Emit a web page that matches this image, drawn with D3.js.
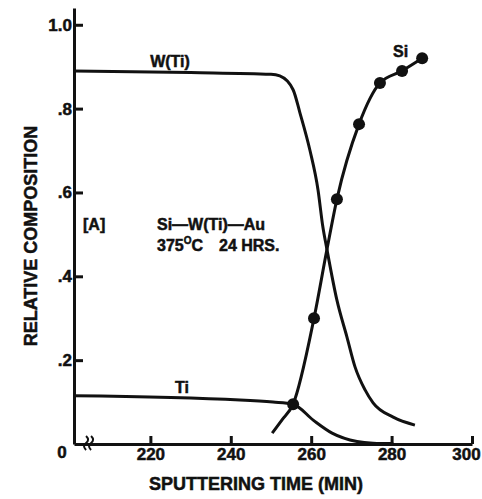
<!DOCTYPE html>
<html>
<head>
<meta charset="utf-8">
<script src="https://cdn.jsdelivr.net/npm/d3@7"></script>
<style>
  body { margin: 0; background: #fff; }
  text { font-family: "Liberation Sans", Arial, sans-serif; font-weight: bold; fill: #111; stroke: #111; stroke-width: 0.5px; }
</style>
</head>
<body>
<svg id="chart"></svg>
<script>
const W = 482, H = 499;

// tick values and labels
const timeTicks = [220, 240, 260, 280, 300];
const compTicks = [0.2, 0.4, 0.6, 0.8, 1.0];
const compTickLabels = [".2", ".4", ".6", ".8", "1.0"];

// W(Ti) curve (sputtering time, relative composition)
const wtiTime = [201, 230, 250, 252.2, 255.5, 257.2, 259.7, 261.7, 262.9, 263.9, 266.4, 268.9, 270.9, 273.4, 275.4, 280.4, 285.8];
const wtiComp = [0.89, 0.886, 0.882, 0.878, 0.845, 0.79, 0.70, 0.606, 0.518, 0.465, 0.343, 0.255, 0.184, 0.129, 0.098, 0.064, 0.045];

// Ti curve
const tiTime = [201, 242.3, 250.5, 255.5, 260.5, 265.2, 271.4, 275.4, 280.4];
const tiComp = [0.115, 0.105, 0.10, 0.095, 0.057, 0.026, 0.006, 0.002, 0.001];

// Si curve and measured points
const siTime = [250.3, 252.7, 255.5, 260.7, 263.9, 266.4, 271.9, 277.1, 282.6, 287.6];
const siComp = [0.026, 0.057, 0.095, 0.30, 0.463, 0.584, 0.763, 0.861, 0.89, 0.92];
const siDotTime = [255.5, 260.7, 266.4, 271.9, 277.1, 282.6, 287.6];
const siDotComp = [0.095, 0.30, 0.584, 0.763, 0.861, 0.89, 0.92];

const svg = d3.select("#chart").attr("width", W).attr("height", H);

const x = d3.scaleLinear().domain([201, 300]).range([74, 472]);
const y = d3.scaleLinear().domain([0, 1.04]).range([444, 8]);

const ink = "#111";

// x axis, ticks pointing up
const xAxis = svg.append("g")
    .attr("transform", `translate(0,${y(0)})`)
    .call(d3.axisBottom(x).tickValues(timeTicks).tickSizeInner(-8).tickSizeOuter(0).tickPadding(4));
xAxis.selectAll("text").style("font-size", "17px")
    .attr("dx", d => d === 300 ? -6 : 0);

// y axis, ticks pointing right
const yAxis = svg.append("g")
    .attr("transform", `translate(${x(201)},0)`)
    .call(d3.axisLeft(y).tickValues(compTicks).tickSizeInner(-9).tickSizeOuter(0).tickPadding(2)
        .tickFormat((d, i) => compTickLabels[i]));
yAxis.selectAll("text").style("font-size", "17px");

svg.selectAll(".domain, .tick line").attr("stroke", ink).attr("stroke-width", 3);

// origin label
svg.append("text").attr("x", 62).attr("y", 458).attr("text-anchor", "middle")
    .style("font-size", "17px").text("0");

// axis break
[0, 5].forEach(dx => {
  svg.append("path")
      .attr("d", `M${x(204) + dx},${y(0) + 6} q-4,-4 0,-7 q4,-3 0,-7`)
      .attr("fill", "none").attr("stroke", ink).attr("stroke-width", 2);
});

const line = d3.line().x(d => x(d[0])).y(d => y(d[1])).curve(d3.curveMonotoneX);

const series = [
  d3.zip(wtiTime, wtiComp),
  d3.zip(tiTime, tiComp),
  d3.zip(siTime, siComp)
];

svg.selectAll(".curve").data(series).enter().append("path")
    .attr("class", "curve")
    .attr("d", line)
    .attr("fill", "none")
    .attr("stroke", ink)
    .attr("stroke-width", 3);

svg.selectAll(".dot").data(d3.zip(siDotTime, siDotComp)).enter().append("circle")
    .attr("class", "dot")
    .attr("cx", d => x(d[0]))
    .attr("cy", d => y(d[1]))
    .attr("r", 6)
    .attr("fill", ink);

// labels
svg.append("text").attr("x", 170).attr("y", 67).attr("text-anchor", "middle").style("font-size", "16px").text("W(Ti)");
svg.append("text").attr("x", 393).attr("y", 57).style("font-size", "16px").text("Si");
svg.append("text").attr("x", 175).attr("y", 393).style("font-size", "16px").text("Ti");
svg.append("text").attr("x", 83).attr("y", 230).style("font-size", "16px").text("[A]");
svg.append("text").attr("x", 157).attr("y", 230).style("font-size", "16px").text("Si\u2014W(Ti)\u2014Au");

const cond = svg.append("text").attr("x", 157).attr("y", 251).style("font-size", "16px");
cond.append("tspan").text("375");
cond.append("tspan").attr("dy", -7).style("font-size", "10px").text("O");
cond.append("tspan").attr("dy", 7).text("C");
cond.append("tspan").attr("x", 219).text("24 HRS.");

// axis titles
svg.append("text").attr("x", 256).attr("y", 490).attr("text-anchor", "middle")
    .style("font-size", "18px").text("SPUTTERING TIME (MIN)");

svg.append("text").attr("transform", "translate(37,236) rotate(-90)")
    .attr("text-anchor", "middle").style("font-size", "18px").text("RELATIVE COMPOSITION");
</script>
</body>
</html>
